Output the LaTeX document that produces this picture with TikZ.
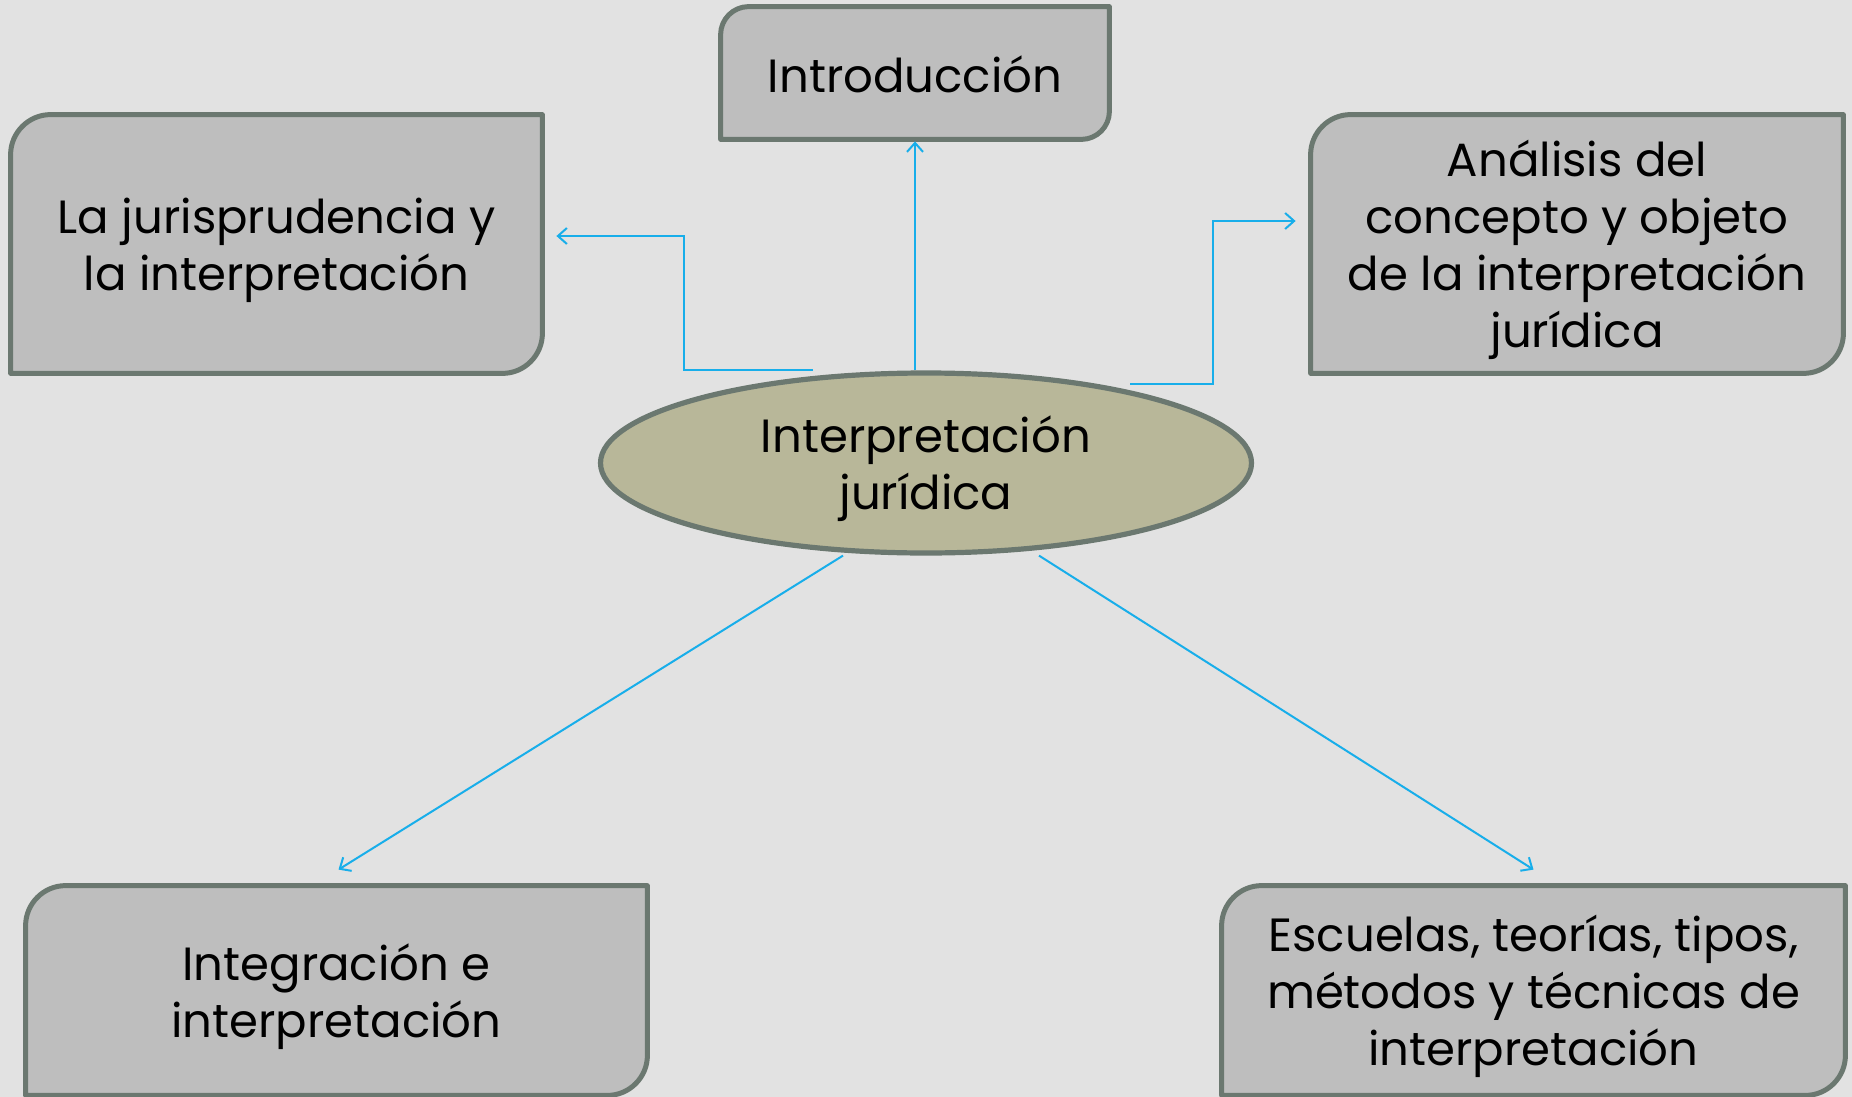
\documentclass[tikz,border=0pt]{standalone}
\usepackage{fontspec}
\setmainfont{Poppins}
\usetikzlibrary{arrows.meta,shapes.geometric,calc}
\definecolor{bgc}{RGB}{226,226,226}
\definecolor{boxfill}{RGB}{190,190,190}
\definecolor{boxline}{RGB}{107,120,112}
\definecolor{ellfill}{RGB}{184,183,153}
\definecolor{conncol}{RGB}{24,174,234}
\pgfdeclarelayer{bg}\pgfdeclarelayer{shapes}\pgfsetlayers{bg,shapes,main}
\newcommand\shapebox[3]{%
 \filldraw[boxedge] (#1.south west) -- ([yshift=-#2]#1.north west)
  .. controls ([yshift=-#3]#1.north west) and ([xshift=#3]#1.north west) .. ([xshift=#2]#1.north west)
  -- (#1.north east) -- ([yshift=#2]#1.south east)
  .. controls ([yshift=#3]#1.south east) and ([xshift=-#3]#1.south east) .. ([xshift=-#2]#1.south east)
  -- cycle;}
\begin{document}
\begin{tikzpicture}[x=0.5pt,y=-0.5pt,
  txt/.style={font=\fontsize{23.3}{28.5}\selectfont, align=center, inner sep=0pt},
  boxnode/.style={rectangle, inner sep=0pt, minimum width=#1},
  boxedge/.style={draw=boxline, fill=boxfill, line width=2.5pt, line join=round},
  ellnode/.style={ellipse, inner sep=0pt, draw=boxline, fill=ellfill, line width=2.6pt, minimum width=325.5pt, minimum height=90pt},
  conn/.style={draw=conncol, line width=1pt, -{Straight Barb[length=4.5pt,width=8pt,line width=1pt]}}]
\useasboundingbox (0,0) rectangle (1852,1097);
\begin{pgfonlayer}{bg}
\fill[bgc] (0,0) rectangle (1852,1097);
\end{pgfonlayer}

\node[boxnode=194pt, minimum height=66pt] (intro) at (915,73) {};
\node[boxnode=265.5pt, minimum height=129pt] (juris) at (276.5,244) {};
\node[boxnode=266pt, minimum height=129pt] (anal) at (1577,244) {};
\node[boxnode=310.5pt, minimum height=104.5pt] (integ) at (336.5,990.5) {};
\node[boxnode=311.5pt, minimum height=104.5pt] (escu) at (1533.5,990.5) {};
\node[ellnode] (ell) at (926,463) {};

\node[txt] (intro-t) at ([yshift=-0.5pt]intro.center) {Introducción};
\node[txt] (juris-t) at ([yshift=-3pt]juris.center) {La jurisprudencia y\\la interpretación};
\node[txt] (anal-t) at ([yshift=-3pt]anal.center) {Análisis del\\concepto y objeto\\de la interpretación\\jurídica};
\node[txt] (integ-t) at ([yshift=-3pt]integ.center) {Integración e\\interpretación};
\node[txt] (escu-t) at ([yshift=-3pt]escu.center) {Escuelas, teorías, tipos,\\métodos y técnicas de\\interpretación};
\node[txt] (ell-t) at ([yshift=-3pt]ell.center) {Interpretación\\jurídica};

\begin{pgfonlayer}{shapes}
\shapebox{intro}{14pt}{6.3pt}
\shapebox{juris}{20pt}{9pt}
\shapebox{anal}{20pt}{9pt}
\shapebox{integ}{20pt}{9pt}
\shapebox{escu}{20pt}{9pt}
\end{pgfonlayer}

\draw[conn] (intro.south |- ell.north) -- ([yshift=-1pt]intro.south);
\draw[conn] ([xshift=-56.5pt]ell.north) -- ++(-64.5pt,0) |- ([xshift=7pt,yshift=4pt]juris.east);
\draw[conn] ([xshift=102pt,yshift=-7pt]ell.north) -- ++(41.5pt,0) |- ([xshift=-7.5pt,yshift=11.5pt]anal.west);
\draw[conn] ([xshift=-41.5pt]ell.south) -- ([xshift=1pt,yshift=8pt]integ.north);
\draw[conn] ([xshift=56.5pt]ell.south) -- ([yshift=8pt]escu.north);
\end{tikzpicture}
\end{document}
